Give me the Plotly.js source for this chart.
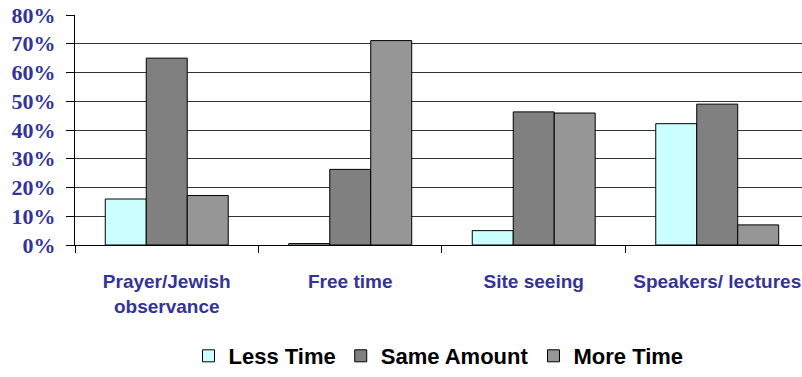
<!DOCTYPE html>
<html>
<head>
<meta charset="utf-8">
<script src="https://cdn.plot.ly/plotly-3.0.1.min.js"></script>
<style>
  html, body { margin: 0; padding: 0; background: #fff; }
  #chart { width: 802px; height: 377px; }
</style>
</head>
<body>
<div id="chart"></div>
<script>
// Activity categories and the share of respondents per answer
const categories = ['Prayer/Jewish<br>observance', 'Free time', 'Site seeing', 'Speakers/ lectures'];
const lessTime    = [16.0, 0.5, 5.0, 42.2];
const sameAmount  = [65.0, 26.3, 46.3, 49.0];
const moreTime    = [17.2, 71.1, 45.9, 7.0];
const yTickValues = [0, 10, 20, 30, 40, 50, 60, 70, 80];
const yTickLabels = ['0%', '10%', '20%', '30%', '40%', '50%', '60%', '70%', '80%'];

const sans = '"Liberation Sans", Arial, sans-serif';
const serif = '"Liberation Serif", "Times New Roman", serif';
const navy = '#333399';

function series(name, values, color) {
  return {
    type: 'bar',
    name: name,
    x: categories,
    y: values,
    marker: { color: color, line: { color: '#000', width: 1 } },
    hoverinfo: 'skip'
  };
}

const data = [
  series('Less Time', lessTime, '#CCFFFF'),
  series('Same Amount', sameAmount, '#808080'),
  series('More Time', moreTime, '#969696')
];

const layout = {
  width: 802,
  height: 377,
  margin: { l: 75, r: 0, t: 15, b: 129 },
  paper_bgcolor: '#fff',
  plot_bgcolor: '#fff',
  barmode: 'group',
  bargap: 0.33,
  bargroupgap: 0,
  showlegend: true,
  legend: {
    orientation: 'h',
    x: 0.5, xanchor: 'center',
    y: -0.485, yanchor: 'middle',
    font: { family: sans, size: 22, color: '#000', weight: 'bold' },
    traceorder: 'normal'
  },
  xaxis: {
    type: 'category',
    range: [-0.5, 3.462],
    tickson: 'boundaries',
    tickangle: 0,
    ticks: 'outside',
    ticklen: 7,
    tickwidth: 1,
    tickcolor: '#000',
    showgrid: false,
    showline: true,
    linecolor: '#000',
    linewidth: 1,
    ticklabelstandoff: 19,
    tickfont: { family: sans, size: 19, color: navy, weight: 'bold' }
  },
  yaxis: {
    range: [0, 80],
    tickvals: yTickValues,
    ticktext: yTickLabels,
    ticks: 'outside',
    ticklen: 8,
    tickwidth: 1,
    tickcolor: '#000',
    showgrid: true,
    gridcolor: '#333',
    gridwidth: 1,
    showline: true,
    linecolor: '#000',
    linewidth: 1,
    zeroline: false,
    ticklabelstandoff: 6,
    tickfont: { family: serif, size: 22, color: navy, weight: 'bold' }
  }
};

Plotly.newPlot('chart', data, layout, { staticPlot: true, displayModeBar: false });
</script>
</body>
</html>
